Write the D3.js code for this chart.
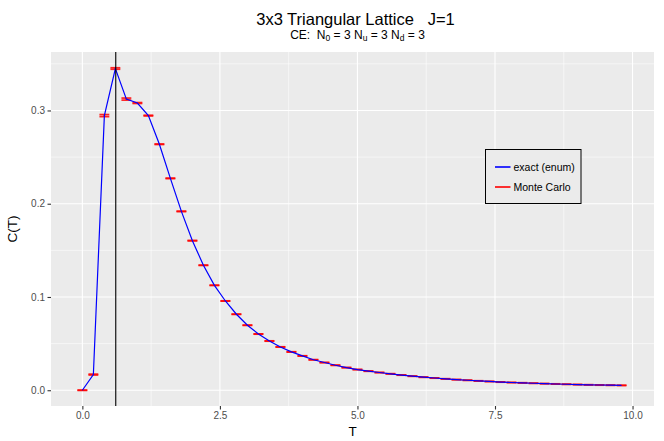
<!DOCTYPE html>
<html>
<head>
<meta charset="utf-8">
<script src="https://cdn.jsdelivr.net/npm/d3@7"></script>
<style>
  html, body { margin: 0; padding: 0; background: #fff; }
  svg { display: block; font-family: "Liberation Sans", Arial, Helvetica, sans-serif; }
</style>
</head>
<body>
<svg id="chart" width="664" height="441"></svg>
<script>
// Temperature grid
const temps = [0.0, 0.2, 0.4, 0.6, 0.8, 1.0, 1.2, 1.4, 1.6, 1.8,
               2.0, 2.2, 2.4, 2.6, 2.8, 3.0, 3.2, 3.4, 3.6, 3.8,
               4.0, 4.2, 4.4, 4.6, 4.8, 5.0, 5.2, 5.4, 5.6, 5.8,
               6.0, 6.2, 6.4, 6.6, 6.8, 7.0, 7.2, 7.4, 7.6, 7.8,
               8.0, 8.2, 8.4, 8.6, 8.8, 9.0, 9.2, 9.4, 9.6, 9.8];

// Specific heat from exact enumeration
const exactC = [0.0000, 0.0168, 0.2944, 0.3450, 0.3122, 0.3080, 0.2945, 0.2638, 0.2272, 0.1918,
                0.1604, 0.1340, 0.1125, 0.0957, 0.0815, 0.0697, 0.0603, 0.0528, 0.0464, 0.0411,
                0.0368, 0.0327, 0.0297, 0.0268, 0.0243, 0.0222, 0.0205, 0.0190, 0.0176, 0.0163,
                0.0151, 0.0140, 0.0131, 0.0122, 0.0114, 0.0107, 0.0100, 0.0094, 0.0088, 0.0083,
                0.0079, 0.0075, 0.0071, 0.0067, 0.0064, 0.0061, 0.0058, 0.0056, 0.0054, 0.0052];

// Monte Carlo estimate and its error half-width
const mcMean = [0.0000, 0.0168, 0.2945, 0.3450, 0.3122, 0.3080, 0.2945, 0.2638, 0.2272, 0.1918,
                0.1604, 0.1340, 0.1125, 0.0957, 0.0815, 0.0697, 0.0603, 0.0528, 0.0464, 0.0411,
                0.0368, 0.0327, 0.0297, 0.0268, 0.0243, 0.0222, 0.0205, 0.0190, 0.0176, 0.0163,
                0.0151, 0.0140, 0.0131, 0.0122, 0.0114, 0.0107, 0.0100, 0.0094, 0.0088, 0.0083,
                0.0079, 0.0075, 0.0071, 0.0067, 0.0064, 0.0061, 0.0058, 0.0056, 0.0054, 0.0052];
const mcErr  = [0.0002, 0.0005, 0.0011, 0.0008, 0.0011, 0.0005, 0.0004, 0.0003, 0.0003, 0.0003,
                0.0003, 0.0002, 0.0002, 0.0002, 0.0002, 0.0002, 0.0002, 0.0002, 0.0002, 0.0002,
                0.0002, 0.0002, 0.0002, 0.0002, 0.0002, 0.0002, 0.0002, 0.0002, 0.0002, 0.0002,
                0.0002, 0.0002, 0.0002, 0.0002, 0.0002, 0.0002, 0.0002, 0.0002, 0.0002, 0.0002,
                0.0002, 0.0002, 0.0002, 0.0002, 0.0002, 0.0002, 0.0002, 0.0002, 0.0002, 0.0002];

const critT = 0.607;           // position of the vertical reference line
const errHalfWidth = 0.09;     // half width of error-bar caps, in T units

const xTicks = [0, 2.5, 5, 7.5, 10];
const xMinor = [1.25, 3.75, 6.25, 8.75];
const yTicks = [0.0, 0.1, 0.2, 0.3];
const yMinor = [0.05, 0.15, 0.25, 0.35];

const legendLabels = ["exact (enum)", "Monte Carlo"];
const legendColors = ["#0000FF", "#FF0000"];

const svg = d3.select("#chart");
const panel = { left: 51, right: 654, top: 52, bottom: 406 };

const x = d3.scaleLinear().domain([-0.57, 10.39]).range([panel.left, panel.right]);
const y = d3.scaleLinear().domain([-0.0169, 0.3627]).range([panel.bottom, panel.top]);

// panel background
svg.append("rect")
  .attr("x", panel.left).attr("y", panel.top)
  .attr("width", panel.right - panel.left).attr("height", panel.bottom - panel.top)
  .attr("fill", "#EBEBEB");

const grid = svg.append("g");
grid.selectAll(".xminor").data(xMinor).join("line")
  .attr("x1", d => x(d)).attr("x2", d => x(d))
  .attr("y1", panel.top).attr("y2", panel.bottom)
  .attr("stroke", "#fff").attr("stroke-width", 0.55);
grid.selectAll(".yminor").data(yMinor).join("line")
  .attr("y1", d => y(d)).attr("y2", d => y(d))
  .attr("x1", panel.left).attr("x2", panel.right)
  .attr("stroke", "#fff").attr("stroke-width", 0.55);
grid.selectAll(".xmajor").data(xTicks).join("line")
  .attr("x1", d => x(d)).attr("x2", d => x(d))
  .attr("y1", panel.top).attr("y2", panel.bottom)
  .attr("stroke", "#fff").attr("stroke-width", 1.1);
grid.selectAll(".ymajor").data(yTicks).join("line")
  .attr("y1", d => y(d)).attr("y2", d => y(d))
  .attr("x1", panel.left).attr("x2", panel.right)
  .attr("stroke", "#fff").attr("stroke-width", 1.1);

// axes
const xAxis = svg.append("g")
  .attr("transform", `translate(0,${panel.bottom})`)
  .call(d3.axisBottom(x).tickValues(xTicks).tickFormat(d3.format(".1f")).tickSize(3.5).tickPadding(2.5));
const yAxis = svg.append("g")
  .attr("transform", `translate(${panel.left},0)`)
  .call(d3.axisLeft(y).tickValues(yTicks).tickFormat(d3.format(".1f")).tickSize(3.5).tickPadding(2.5));
[xAxis, yAxis].forEach(a => {
  a.select(".domain").remove();
  a.selectAll(".tick line").attr("stroke", "#333").attr("stroke-width", 1.1);
  a.selectAll(".tick text").attr("fill", "#4D4D4D")
    .style("font-size", "10px").style("font-family", "'Liberation Sans', Arial, sans-serif");
});

const rows = temps.map((t, i) => ({ t, exact: exactC[i], mean: mcMean[i], err: mcErr[i] }));

// Monte Carlo error bars
const eb = svg.append("g").attr("stroke", "#FF0000").attr("stroke-width", 1.7).attr("stroke-opacity", 0.85);
rows.forEach(r => {
  const lo = r.mean - r.err, hi = r.mean + r.err;
  eb.append("line").attr("x1", x(r.t - errHalfWidth)).attr("x2", x(r.t + errHalfWidth))
    .attr("y1", y(lo)).attr("y2", y(lo));
  eb.append("line").attr("x1", x(r.t - errHalfWidth)).attr("x2", x(r.t + errHalfWidth))
    .attr("y1", y(hi)).attr("y2", y(hi));
  eb.append("line").attr("x1", x(r.t)).attr("x2", x(r.t))
    .attr("y1", y(lo)).attr("y2", y(hi));
});

// exact curve
svg.append("path")
  .datum(rows)
  .attr("fill", "none")
  .attr("stroke", "#0000FF")
  .attr("stroke-width", 1.2)
  .attr("d", d3.line().x(d => x(d.t)).y(d => y(d.exact)));

// vertical reference line
svg.append("line")
  .attr("x1", x(critT)).attr("x2", x(critT))
  .attr("y1", panel.top).attr("y2", panel.bottom)
  .attr("stroke", "#000").attr("stroke-width", 1.1);

// legend
const lg = svg.append("g").attr("transform", "translate(485.5,149.5)");
lg.append("rect").attr("width", 95.5).attr("height", 54)
  .attr("fill", "#EBEBEB").attr("stroke", "#000").attr("stroke-width", 1);
legendLabels.forEach((lab, i) => {
  const cy = 17.5 + i * 20;
  lg.append("line").attr("x1", 9.5).attr("x2", 25).attr("y1", cy).attr("y2", cy)
    .attr("stroke", legendColors[i]).attr("stroke-width", 1.6);
  lg.append("text").attr("x", 28).attr("y", cy).attr("dy", "0.35em")
    .attr("fill", "#000").style("font-size", "10.5px").text(lab);
});

// titles
const cx = (panel.left + panel.right) / 2;
svg.append("text").attr("x", cx + 3).attr("y", 25).attr("text-anchor", "middle")
  .style("font-size", "16.5px").style("white-space", "pre").attr("fill", "#000")
  .text("3x3 Triangular Lattice\u00A0\u00A0\u00A0J=1");

const sub = svg.append("text").attr("x", cx + 5).attr("y", 39).attr("text-anchor", "middle")
  .style("font-size", "12px").style("white-space", "pre").attr("fill", "#000");
sub.append("tspan").text("CE:\u00A0\u00A0N");
sub.append("tspan").attr("baseline-shift", "-25%").style("font-size", "8.5px").text("0");
sub.append("tspan").text(" = 3 N");
sub.append("tspan").attr("baseline-shift", "-25%").style("font-size", "8.5px").text("u");
sub.append("tspan").text(" = 3 N");
sub.append("tspan").attr("baseline-shift", "-25%").style("font-size", "8.5px").text("d");
sub.append("tspan").text(" = 3");

svg.append("text").attr("x", cx).attr("y", 436).attr("text-anchor", "middle")
  .style("font-size", "13.5px").attr("fill", "#000").text("T");
svg.append("text")
  .attr("transform", `translate(17,${(panel.top + panel.bottom) / 2}) rotate(-90)`)
  .attr("text-anchor", "middle")
  .style("font-size", "13.5px").attr("fill", "#000").text("C(T)");
</script>
</body>
</html>
